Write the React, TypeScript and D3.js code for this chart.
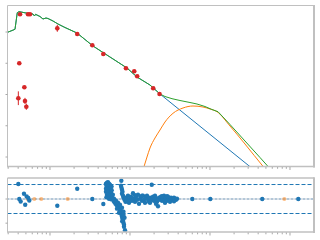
import React from 'react';
import * as d3 from 'd3';

// ---------- data ----------
// photometry: wavelength (µm) and λFλ
const photWl = [0.422, 0.531, 0.562, 1.234, 2.19, 3.38, 4.64, 8.91, 11.3, 12.3, 19.5, 23.4, 0.413, 0.478, 0.402, 0.487, 0.506];
const photFlux = [3.68e-10, 3.68e-10, 3.68e-10, 1.31e-10, 8.63e-11, 3.75e-11, 1.98e-11, 6.89e-12, 5.52e-12, 3.82e-12, 1.58e-12, 1.04e-12, 1.0e-11, 1.7e-12, 7.6e-13, 6.2e-13, 4.07e-13];
const photErrDex = [0.04, 0.02, 0.02, 0.11, 0.02, 0.02, 0.02, 0.02, 0.02, 0.02, 0.02, 0.02, 0.02, 0.03, 0.22, 0.1, 0.1];

// stellar photosphere model (log10 µm, log10 λFλ)
const starLogWl = [-0.531, -0.4375, -0.409, -0.3875, -0.35, -0.3, -0.25, -0.2125, -0.194, -0.181, -0.125, -0.0875, -0.05, -0.025, 0.0375, 0.1, 0.1875, 0.3375, 0.5375, 0.75, 0.9625, 1.0875, 1.25, 1.375, 2.5625];
const starLogFlux = [-10.01, -9.914, -9.382, -9.35, -9.366, -9.392, -9.411, -9.424, -9.488, -9.434, -9.504, -9.584, -9.552, -9.568, -9.648, -9.744, -9.856, -10.032, -10.448, -10.8, -11.152, -11.44, -11.696, -11.984, -14.438];

// disk blackbody
const diskLogWl = [1.1375, 1.175, 1.2125, 1.25, 1.3125, 1.375, 1.4375, 1.5375, 1.6625, 1.7875, 1.9125, 2.0, 2.0875, 2.25, 2.4375, 2.666, 2.725];
const diskLogFlux = [-14.608, -14.31, -14.0, -13.712, -13.392, -13.136, -12.88, -12.602, -12.432, -12.368, -12.4, -12.464, -12.55, -13.008, -13.584, -14.31, -14.49];

// total model
const totalLogWl = [-0.531, -0.4375, -0.409, -0.3875, -0.35, -0.3, -0.25, -0.2125, -0.194, -0.181, -0.125, -0.0875, -0.05, -0.025, 0.0375, 0.1, 0.1875, 0.3375, 0.5375, 0.75, 0.9625, 1.0875, 1.25, 1.375, 1.4375, 1.525, 1.625, 1.75, 1.8375, 1.9375, 2.025, 2.1, 2.25, 2.4375, 2.625, 2.7875];
const totalLogFlux = [-10.01, -9.914, -9.382, -9.35, -9.366, -9.392, -9.411, -9.424, -9.488, -9.434, -9.504, -9.584, -9.552, -9.568, -9.648, -9.744, -9.856, -10.032, -10.448, -10.8, -11.152, -11.44, -11.696, -11.984, -12.064, -12.134, -12.192, -12.256, -12.304, -12.384, -12.48, -12.55, -12.96, -13.488, -14.016, -14.48];

// residuals: spectrum
const specWl = [5.01, 5.16, 5.31, 5.46, 5.62, 5.08, 5.31, 5.62, 5.79, 5.01, 5.23, 5.46, 5.7, 5.01, 5.31, 5.54, 5.79, 5.16, 5.39, 5.62, 5.96, 5.08, 5.46, 5.79,
  6.04, 6.22, 6.4, 6.59, 6.78, 6.98, 7.18, 7.39, 7.61,
  7.72, 7.83, 7.94, 8.06, 8.18, 8.29, 8.41, 8.41, 8.66,
  7.79, 7.72, 7.83, 7.94, 8.06, 7.94, 8.18, 8.29,
  8.54, 8.79, 8.91, 9.17, 9.44, 9.72, 10.0, 10.29, 10.59, 10.9, 11.22, 11.55, 11.89, 12.23, 12.59, 12.96, 13.34, 13.73, 14.13, 14.54, 14.96, 15.4, 15.85, 16.31, 16.79, 17.28, 17.78, 18.7, 18.84, 19.39, 19.95, 20.54, 21.13, 21.75, 22.39, 23.04, 23.71, 24.4, 25.12, 25.85, 26.61, 27.38, 28.18, 29.0, 29.85, 30.72, 31.62, 32.54, 33.5, 34.47, 35.48, 36.52, 37.58, 38.68,
  9.44, 11.55, 14.13, 17.78, 25.12, 29.0, 31.62, 35.48, 27.38, 21.13,
  6.31, 6.68, 7.08, 6.88, 7.29, 7.5, 7.94, 8.29, 8.54, 5.9, 6.1, 5.88, 8.0, 8.3];
const specRes = [3.17, 3.37, 3.48, 3.17, 2.96, 2.75, 2.55, 2.34, 2.55, 2.13, 1.93, 1.72, 1.93, 1.51, 1.3, 1.1, 1.3, 0.89, 0.68, 0.48, 0.68, 0.37, 0.06, -0.04,
  0.06, -0.35, -0.66, -0.97, -1.18, -1.49, -1.8, -2.11, -2.42,
  -2.84, -3.25, -3.66, -4.08, -4.49, -4.91, -5.32, -5.73, -6.46,
  3.79, 2.75, 2.34, 1.93, 1.51, 1.1, 0.68, 0.27,
  -0.14, -0.56, 0.27, -0.14, 0.68, -0.77, 0.06, 0.48, -0.35, 1.2, 0.06, -0.56, 0.48, -0.14, 0.89, -0.97, 0.06, 0.48, -0.35, 0.68, -0.14, -0.77, 0.27, 0.68, -0.14, -0.56, 0.27, 2.96, -0.14, 0.48, -0.35, 0.68, 0.06, -0.56, -1.49, 0.27, -0.14, 0.48, -0.35, 0.06, 0.68, -0.14, 0.27, -0.35, 0.48, 0.06, -0.14, 0.27, 0.06, -0.14, 0.27, 0.06, -0.14, 0.06,
  -0.56, 0.79, 0.68, -0.77, 0.58, 0.58, -0.56, -0.46, -0.77, -0.97,
  0.06, -0.35, -0.77, -2.0, -2.84, -1.18, -1.8, -2.63, -3.87, 1.8, 0.9, 2.6, -4.6, -3.3];

// residuals: photometry
const photResWl = [0.402, 0.413, 0.43, 0.473, 0.49, 0.511, 0.535, 0.551, 1.234, 2.19, 3.38, 4.64, 60.1, 100.9, 450, 1270];
const photRes = [3.1, 0, -0.5, 1.1, -1.18, 0.54, 0.2, -0.3, -1.39, 2.13, 0, -1.04, 0, 0, 0, 0];
// residuals: upper limits
const limResWl = [0.526, 0.637, 0.778, 1.664, 849];
const limRes = [0, 0, 0, 0, 0];

const yMajorTop = [1e-14, 1e-13, 1e-12, 1e-11, 1e-10];
const yTicksRes = [-5, 0];
const resBand = [-3, 3];

// ---------- layout ----------
const L = 7.5, R = 314;
const T1 = 5.5, B1 = 166.5;
const T2 = 178, B2 = 232;

const spine = '#c0c0c0';
const tickC = '#a8a8a8';

export default function App() {
  const x = d3.scaleLog().domain([0.2943, 1995.3]).range([L, R]);
  const y = d3.scaleLog().domain([Math.pow(10, -14.304), Math.pow(10, -9.152)]).range([B1, T1]);
  const yr = d3.scaleLinear().domain([-6.83, 4.35]).range([B2, T2]);

  const mkLine = (lw: number[], lf: number[], curve: any) =>
    d3.line<number>()
      .x((_, i) => x(Math.pow(10, lw[i])))
      .y((_, i) => y(Math.pow(10, lf[i])))
      .curve(curve)(lw) || '';

  const starPath = mkLine(starLogWl, starLogFlux, d3.curveLinear);
  const diskPath = mkLine(diskLogWl, diskLogFlux, d3.curveMonotoneX);
  const totalPath = mkLine(totalLogWl, totalLogFlux, d3.curveLinear);

  const minorTicks: { v: number; major: boolean }[] = [];
  for (let e = -1; e <= 3; e++) {
    for (let m = 1; m <= 9; m++) {
      const v = m * Math.pow(10, e);
      const px = x(v);
      if (px >= L && px <= R) minorTicks.push({ v, major: m === 1 });
    }
  }

  const xTicks = (yy: number) =>
    minorTicks.map((t, i) => (
      <line key={i} x1={x(t.v)} x2={x(t.v)} y1={yy} y2={yy + (t.major ? 3 : 1.8)} stroke={tickC} strokeWidth={1} />
    ));

  return (
    <svg width={320} height={240} style={{ position: 'absolute', left: 0, top: 0 }} fontFamily="DejaVu Sans">
      <defs>
        <clipPath id="clipTop"><rect x={L} y={T1} width={R - L} height={B1 - T1} /></clipPath>
        <clipPath id="clipBot"><rect x={L} y={T2} width={R - L} height={B2 - T2} /></clipPath>
      </defs>
      <rect width={320} height={240} fill="#fff" />

      {/* ---- top panel ---- */}
      <g clipPath="url(#clipTop)">
        <path d={starPath} fill="none" stroke="#1f77b4" strokeWidth={1} />
        <path d={diskPath} fill="none" stroke="#ff7f0e" strokeWidth={1} />
        <path d={totalPath} fill="none" stroke="#2ca02c" strokeWidth={1} />
        {photWl.map((w, i) => {
          const cx = x(w);
          const f = photFlux[i];
          const e = photErrDex[i];
          return (
            <g key={i}>
              <line x1={cx} x2={cx} y1={y(f * Math.pow(10, e))} y2={y(f / Math.pow(10, e))} stroke="#d62728" strokeWidth={1} />
              <circle cx={cx} cy={y(f)} r={2.3} fill="#d62728" />
            </g>
          );
        })}
      </g>
      {/* spines top */}
      <line x1={L} x2={R} y1={T1} y2={T1} stroke={spine} strokeWidth={1} />
      <line x1={L} x2={L} y1={T1} y2={B1} stroke={spine} strokeWidth={1} />
      <line x1={R} x2={R} y1={T1 - 0.5} y2={B1 + 1} stroke={spine} strokeWidth={2} />
      <line x1={L - 0.5} x2={R + 1} y1={B1} y2={B1} stroke={spine} strokeWidth={1.6} />
      {xTicks(B1 + 0.5)}
      {yMajorTop.map((v, i) => (
        <line key={i} x1={L - 2} x2={L} y1={y(v)} y2={y(v)} stroke={tickC} strokeWidth={1} />
      ))}

      {/* ---- bottom panel ---- */}
      <g clipPath="url(#clipBot)">
        {resBand.map((v, i) => (
          <line key={i} x1={L} x2={R} y1={yr(v)} y2={yr(v)} stroke="#1f77b4" strokeWidth={1} strokeDasharray="4,2" />
        ))}
        <line x1={L} x2={R} y1={yr(0)} y2={yr(0)} stroke="#b9c6d3" strokeWidth={1} />
        <line x1={L} x2={R} y1={yr(0)} y2={yr(0)} stroke="#3f77a8" strokeWidth={1} strokeDasharray="1,3" />
        {limResWl.map((w, i) => (
          <circle key={'l' + i} cx={x(w)} cy={yr(limRes[i])} r={2.1} fill="#ff7f0e" fillOpacity={0.5} />
        ))}
        {photResWl.map((w, i) => (
          <circle key={'p' + i} cx={x(w)} cy={yr(photRes[i])} r={2.2} fill="#1f77b4" />
        ))}
        {specWl.map((w, i) => (
          <circle key={'s' + i} cx={x(w)} cy={yr(specRes[i])} r={2.2} fill="#1f77b4" />
        ))}
      </g>
      <line x1={L} x2={R} y1={T2} y2={T2} stroke={spine} strokeWidth={1.6} />
      <line x1={L} x2={L} y1={T2} y2={B2} stroke={spine} strokeWidth={1} />
      <line x1={R} x2={R} y1={T2 - 0.8} y2={B2 + 1} stroke={spine} strokeWidth={2} />
      <line x1={L - 0.5} x2={R + 1} y1={B2} y2={B2} stroke={spine} strokeWidth={1.6} />
      {xTicks(B2 + 0.5)}
      {yTicksRes.map((v, i) => (
        <line key={i} x1={L - 2} x2={L} y1={yr(v)} y2={yr(v)} stroke={tickC} strokeWidth={1} />
      ))}
    </svg>
  );
}
